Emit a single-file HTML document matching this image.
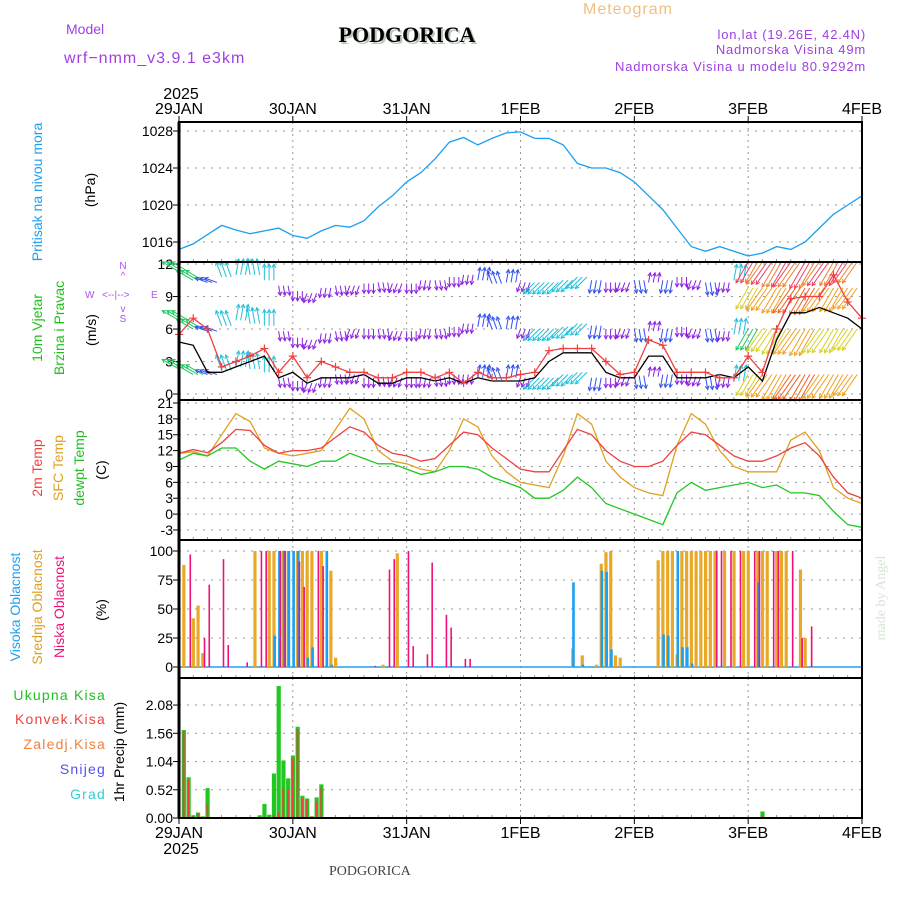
<!DOCTYPE html>
<html><head><meta charset="utf-8"><style>
body{margin:0;background:#fff}
svg{display:block}
</style></head><body>
<svg id="c" width="900" height="900" viewBox="0 0 900 900" xmlns="http://www.w3.org/2000/svg" font-family="Liberation Sans, DejaVu Sans, sans-serif">
<g>
<text x="66" y="34" font-size="14" fill="#a040e0">Model</text>
<text x="64" y="63" font-size="16" fill="#a040e0" letter-spacing="1">wrf−nmm_v3.9.1 e3km</text>
<text x="409" y="44" font-size="22" font-weight="bold" style="font-family:'Liberation Serif',serif" text-anchor="middle" fill="#b8c8b8">PODGORICA</text>
<text x="407" y="42" font-size="22" font-weight="bold" style="font-family:'Liberation Serif',serif" text-anchor="middle" fill="#000">PODGORICA</text>
<text x="583" y="14" font-size="16" fill="#f0c080" letter-spacing="1">Meteogram</text>
<text x="866" y="39" font-size="13" fill="#a040e0" text-anchor="end" letter-spacing="0.8">lon,lat (19.26E, 42.4N)</text>
<text x="866" y="54" font-size="13" fill="#a040e0" text-anchor="end" letter-spacing="0.8">Nadmorska Visina 49m</text>
<text x="866" y="71" font-size="13" fill="#a040e0" text-anchor="end" letter-spacing="0.8">Nadmorska Visina u modelu 80.9292m</text>
<text x="329" y="875" font-size="14" style="font-family:'Liberation Serif',serif" fill="#444">PODGORICA</text>
<text transform="translate(885,598) rotate(-90)" font-size="14" style="font-family:'Liberation Serif',serif" fill="#d8e4d8" text-anchor="middle">made by Angel</text>
</g>
<g>
<text transform="translate(42,192) rotate(-90)" font-size="14" fill="#20a0f0" text-anchor="middle">Pritisak na nivou mora</text>
<text transform="translate(95,190) rotate(-90)" font-size="14" fill="#000" text-anchor="middle">(hPa)</text>
<text transform="translate(42,328) rotate(-90)" font-size="14" fill="#20c020" text-anchor="middle">10m Vjetar</text>
<text transform="translate(64,328) rotate(-90)" font-size="14" fill="#20c020" text-anchor="middle">Brzina i Pravac</text>
<text transform="translate(96,330) rotate(-90)" font-size="14" fill="#000" text-anchor="middle">(m/s)</text>
<g fill="#b050f0" font-size="10">
<text x="123" y="269" text-anchor="middle">N</text><text x="123" y="279" text-anchor="middle">^</text>
<text x="85" y="298">W</text><text x="102" y="298">&lt;--|--&gt;</text><text x="151" y="298">E</text>
<text x="123" y="312" text-anchor="middle">v</text><text x="123" y="322" text-anchor="middle">S</text>
</g>
<text transform="translate(42,468) rotate(-90)" font-size="14" fill="#f04040" text-anchor="middle">2m Temp</text>
<text transform="translate(63,468) rotate(-90)" font-size="14" fill="#e0a020" text-anchor="middle">SFC Temp</text>
<text transform="translate(84,468) rotate(-90)" font-size="14" fill="#20c020" text-anchor="middle">dewpt Temp</text>
<text transform="translate(106,470) rotate(-90)" font-size="14" fill="#000" text-anchor="middle">(C)</text>
<text transform="translate(20,607) rotate(-90)" font-size="14" fill="#20a0f0" text-anchor="middle">Visoka Oblacnost</text>
<text transform="translate(42,607) rotate(-90)" font-size="14" fill="#e0a020" text-anchor="middle">Srednja Oblacnost</text>
<text transform="translate(64,607) rotate(-90)" font-size="14" fill="#f0107a" text-anchor="middle">Niska Oblacnost</text>
<text transform="translate(106,610) rotate(-90)" font-size="14" fill="#000" text-anchor="middle">(%)</text>
<g font-size="14" text-anchor="end" letter-spacing="1.2">
<text x="106" y="700" fill="#20c020">Ukupna  Kisa</text>
<text x="106" y="724" fill="#f04040">Konvek.Kisa</text>
<text x="106" y="749" fill="#f08040">Zaledj.Kisa</text>
<text x="106" y="774" fill="#5050f0">Snijeg</text>
<text x="106" y="799" fill="#30d0d0">Grad</text>
</g>
<text transform="translate(124,752) rotate(-90)" font-size="14" fill="#000" text-anchor="middle">1hr Precip (mm)</text>
</g>
<g id="plot"></g>
</svg>
<script>
// ---- data (3-hourly, 29JAN 00h .. 4FEB 00h) ----
const days = ["29JAN","30JAN","31JAN","1FEB","2FEB","3FEB","4FEB"];
const pressTicks = [1016,1020,1024,1028];
const windTicks = [0,3,6,9,12];
const tempTicks = [-3,0,3,6,9,12,15,18,21];
const cloudTicks = [0,25,50,75,100];
const precipTicks = [0,0.52,1.04,1.56,2.08];
const pressure = [1015.2,1015.8,1016.8,1017.8,1017.3,1016.9,1017.2,1017.5, 1016.7,1016.4,1017.2,1017.8,1017.6,1018.3,1019.8,1021, 1022.5,1023.5,1025,1026.8,1027.3,1026.5,1027.2,1027.8, 1027.9,1027.2,1027.2,1026.5,1024.5,1024,1024,1023.5, 1022.5,1021,1019.5,1017.5,1015.5,1015,1015.5,1015, 1014.5,1014.8,1015.5,1015.2,1016,1017.5,1019,1020,1021];
const t2m = [11.5,12.2,11.6,13.5,16,15.8,13,11.5, 12,12,12.5,14.5,16.5,15.5,13,11.5, 11,10,10.5,13,15.5,15,12.5,10.5, 8.5,8,8,12,16,15,12,10, 9,9,10,13,15.5,15,13,11, 10,10,11,12.5,13.5,11,7,4, 3];
const tsfc = [11.5,11.8,11,15,19,17.5,12.5,11.5, 11,11.5,12,16,20,18,12,10, 9.5,8.5,8,12,18,16.5,11,8, 6,5.5,5,11,19,17,10,7, 5,4,3.5,13,19,17,12,9, 8,8,8,14,15.5,12,5,3, 2];
const tdew = [10.2,11.5,11,12.5,12.5,10,8.5,10, 9.5,9,10,10,11.5,10.5,9.5,9.5, 8.5,7.5,8,9,9,8.5,7,6, 5,3,3,4.5,7,5,2,1, 0,-1,-2,4,6,4.5,5,5.5, 6,5,5.5,4,4,3.5,0.5,-2, -2.5];
const wspd = [4.8,4.5,2,2,2.5,3,3.5,1.5, 2,1,1.5,1.5,1.5,1.8,1,1, 1.5,1.5,1.2,1.5,1,1.5,1.2,1.2, 1.2,1.5,3,3.8,3.8,3.8,2,1.5, 1.5,3.5,3.5,1.5,1.5,1.5,1.8,1.5, 2.5,1.2,5,7.5,7.5,8,7.5,7, 6];
const wgust = [5.5,7,6,2.5,3,3.5,4.2,2, 3.5,1.5,3,2.5,2,2,1.5,1.5, 2,2,1.5,2,1,2,1.5,1.5, 1.8,2,4,4.2,4.2,4.2,3,1.8, 2,5,4.5,2,2,2,1.5,1.5, 3.5,2,6,8.8,9,9,11,8.5, 7];
// wind arrows: pointing direction (deg clockwise from up) and speed
const windDir = [300,300,290,340,10,350,0,170, 180,200,190,170,200,180,170,200, 180,190,170,180,190,10,340,10, 200,225,225,225,225,190,180,200, 170,10,190,180,200,170,190,10, 210,215,210,215,210,215,210,215, 210];
const windSpd = [4.5,4.5,2.5,3.5,3.5,3.5,3.5,1.5, 1.5,1.5,1.5,1.5,1.5,1.5,1.5,1.5, 1.5,1.5,1.5,1.5,1.5,2.5,2.5,2.5, 1.5,3.5,3.5,3.5,3.5,2.5,1.5,1.5, 2.5,1.5,2.5,1.5,1.5,2.5,1.5,3.5, 6,7,7.5,8,8,7.5,7,6.5, 6];
const rowTop = [11.3,10.5,10.3,10.8,11,11,10.5,10, 9.5,9.3,9.8,10,10,10.2,10.3,10.2, 10.2,10.5,10.5,10.8,11,10.5,10.2,10.3, 10.3,10.3,10.3,10.5,10.8,10.5,10.3,10.3, 10.5,10.3,10.5,10.8,10.5,10.3,10.3,10.5, 12.2,12.2,12.2,12.2,12.2,12.2,12.2,12.2, 12.2];
const rowMid = [6.8,6,5.8,6.3,6.8,6.5,6.3,5.8, 5.2,5,5.6,5.8,6,6,6,5.8, 5.8,6,6,6.2,6.5,6.2,6,6, 6,6,6,6.2,6.5,6.3,6,6, 6,5.8,6,6.2,6,6,5.8,5.5, 9.8,9.8,9.8,9.8,9.8,9.8,9.8,9.8, 9.8];
const rowLow = [2.3,1.8,1.8,2.2,2.5,2.3,2,1.5, 1.2,1,1.5,1.8,1.8,1.5,1.6,1.5, 1.5,1.5,1.6,1.8,1.8,1.5,1.3,1.5, 1.5,1.5,1.5,1.8,2,1.5,1.5,1.6, 1.7,1.6,1.8,1.8,1.6,1.6,1.5,1.2, 6,6,6,6,6,6,6,6, 6];
const rowExtra = [null,null,null,null,null,null,null,null, null,null,null,null,null,null,null,null, null,null,null,null,null,null,null,null, null,null,null,null,null,null,null,null, null,null,null,null,null,null,null,null, 1.8,1.8,1.8,1.8,1.8,1.8,1.8,1.8, 1.8];
// cloud cover: hour index and percent
const midHours = [1,3,4,5,16,19,20,22,23,25,26,27,28,30,32,33,43,46,83,85,88,89,90,91,92,93,101,102,103,104,105,106,107,108,109,110,111,112,113,115,117,119,120,122,123,124,126,127,128,131,132];
const midVals  = [88,42,53,12,100,100,100,100,100,100,100,100,100,100,83,8,2,98,16,10,2,89,99,100,10,8,92,100,100,100,11,100,100,100,100,100,100,100,100,100,100,100,100,100,100,100,100,100,100,84,25];
const lowHours = [2,5,6,9,10,14,17,18,21,22,25,26,29,30,41,44,45,48,49,52,53,56,57,60,61,113,114,116,118,121,122,125,126,129,131,133];
const lowVals  = [97,25,71,93,19,4,100,100,100,100,91,69,100,87,1,84,93,100,18,11,90,45,34,7,7,100,100,100,100,100,100,100,100,100,25,35];
const highHours = [20,21,22,23,24,25,27,28,31,32,83,85,89,90,91,102,103,105,106,107,108,122];
const highVals  = [27,100,100,100,100,100,8,17,100,2,73,2,83,82,15,28,27,100,17,17,3,73];
// precipitation (mm/h)
const precipHours = [1,2,3,4,5,6,17,18,19,20,21,22,23,24,25,26,27,28,29,30,58,123];
const precipTotal = [1.62,0.75,0.05,0.1,0.03,0.55,0.05,0.26,0.06,0.82,2.43,1.06,0.73,1.15,1.68,0.41,0.36,0.03,0.38,0.62,0.02,0.12];
const precipConv  = [1.6,0.7,0.03,0.08,0.02,0.27,0.02,0.02,0.02,0.05,0.1,0.55,0.52,1.1,1.63,0.37,0.34,0.03,0.31,0.55,0.01,0.05];

// ---- geometry ----
const NS="http://www.w3.org/2000/svg", X0=179, X1=862, HOURS=144;
const xh = h => X0 + h*(X1-X0)/HOURS;
const yP = v => 131 + (1028-v)*9.25;
const yW = v => 394 - v*10.83;
const yT = v => 403 + (21-v)*5.29;
const yC = v => 667 - v*1.16;
const yR = v => 818 - v*54.3;
const panels = [[122,262,yP,pressTicks,"pressure-panel",0],[262,400,yW,windTicks,"wind-panel",0],[400,540,yT,tempTicks,"temp-panel",0],[540,678,yC,cloudTicks,"cloud-panel",0],[678,818,yR,precipTicks,"precip-panel",2]];
const plot = document.getElementById('plot');
function el(tag, attrs, parent){const e=document.createElementNS(NS,tag);for(const k in attrs)e.setAttribute(k,attrs[k]);(parent||plot).appendChild(e);return e;}

panels.forEach(p=>{
  const g = el('g',{});
  
  
  p[3].forEach(t=>{
    const y=p[2](t);
    el('line',{x1:X0,x2:X1,y1:y,y2:y,stroke:'#999','stroke-dasharray':'2,6','stroke-width':1},g);
    el('line',{x1:X0-6,x2:X0,y1:y,y2:y,stroke:'#000','stroke-width':1},g);
    const tx = el('text',{x:X0-6,y:y+5,'font-size':14,'text-anchor':'end',fill:'#000'},g);
    tx.textContent = p[5]? t.toFixed(2): String(t);
    
    
  });
  for(let d=1; d<6; d++){ const x=xh(d*24); el('line',{x1:x,x2:x,y1:p[0],y2:p[1],stroke:'#999','stroke-dasharray':'2,4'},g); }
  for(let h=0; h<=HOURS; h+=3){ el('line',{x1:xh(h),x2:xh(h),y1:p[1],y2:p[1]-3,stroke:'#555','stroke-width':0.6},g); }
});

function line(arr, yf, color, name){
  const d = arr.map((v,i)=>(i?'L':'M')+xh(i*3).toFixed(1)+','+yf(v).toFixed(1)).join('');
  const p = el('path',{d:d,fill:'none',stroke:color,'stroke-width':1.3});
  
  
}
line(pressure, yP, '#1aa0f0', 'pressure-line');

function windColor(s){ if(s<2) return '#8a20e0'; if(s<3) return '#3050f0'; if(s<4) return '#20c0d8'; if(s<5) return '#20c860'; if(s<6.5) return '#d8d020'; if(s<7.8) return '#f0a020'; return '#f06020'; }
[rowTop,rowMid,rowLow,rowExtra].forEach((row,ri)=>{
  for(let h=0; h<HOURS; h++){
    const i = Math.floor(h/3), lv=row[i];
    if(lv===null) continue;
    const a = windDir[i]*Math.PI/180, L = 5 + windSpd[i]*3.2;
    const x=xh(h), y=yW(lv), x2=x+Math.sin(a)*L, y2=y-Math.cos(a)*L;
    const col = (ri===0 && i>=40) ? (h%4<2?'#f04060':'#f08030') : windColor(windSpd[i] + (ri===2&&i>=40?-1.5:0));
    const g = el('g',{stroke:col,'stroke-width':1,fill:'none'});
    
    
    el('line',{x1:x,y1:y,x2:x2,y2:y2},g);
    const b1=a+Math.PI-0.5, b2=a+Math.PI+0.5;
    el('path',{d:`M${x2+Math.sin(b1)*4},${y2-Math.cos(b1)*4}L${x2},${y2}L${x2+Math.sin(b2)*4},${y2-Math.cos(b2)*4}`},g);
  }
});
line(wspd, yW, '#000', 'wind-speed-line');
line(wgust, yW, '#f04040', 'wind-gust-line');
wgust.forEach((v,i)=>{
  const x=xh(i*3), y=yW(v);
  const m = el('path',{d:`M${x-4},${y}H${x+4}M${x},${y-4}V${y+4}`,stroke:'#f04040','stroke-width':1.2});
  
  
});

line(tsfc, yT, '#e0a020', 'sfc-temp-line');
line(t2m, yT, '#f04040', '2m-temp-line');
line(tdew, yT, '#20c820', 'dewpoint-line');

el('line',{x1:X0,x2:X1,y1:yC(0),y2:yC(0),stroke:'#20a0f0','stroke-width':1.5});
midHours.forEach((h,i)=>{ const r=el('rect',{x:xh(h)-1.5,y:yC(midVals[i]),width:3.2,height:yC(0)-yC(midVals[i]),fill:'#e8a828'});
    });
highHours.forEach((h,i)=>{ const r=el('rect',{x:xh(h)-0.5,y:yC(highVals[i]),width:2.6,height:yC(0)-yC(highVals[i]),fill:'#1aa0f0'});
    });
lowHours.forEach((h,i)=>{ const r=el('rect',{x:xh(h)+1,y:yC(lowVals[i]),width:1.6,height:yC(0)-yC(lowVals[i]),fill:'#f0107a'});
    });

precipHours.forEach((h,i)=>{
  const r=el('rect',{x:xh(h)-2,y:yR(precipTotal[i]),width:4.2,height:yR(0)-yR(precipTotal[i]),fill:'#20c820'});
   
  const c=el('rect',{x:xh(h)-1,y:yR(precipConv[i]),width:1.8,height:yR(0)-yR(precipConv[i]),fill:'#f04040'});
   
});

panels.forEach(p=>{ el('rect',{x:X0,y:p[0],width:X1-X0,height:p[1]-p[0],fill:'none',stroke:'#000','stroke-width':2}); });
el('line',{x1:X0,x2:X0,y1:122,y2:818,stroke:'#000','stroke-width':3});

days.forEach((d,i)=>{
  const x=xh(i*24);
  el('line',{x1:x,x2:x,y1:116,y2:122,stroke:'#000'});
  el('line',{x1:x,x2:x,y1:818,y2:824,stroke:'#000'});
  const t=el('text',{x:x,y:114,'font-size':16,'text-anchor':'middle',fill:'#000'}); t.textContent=d;
   
  const b=el('text',{x:x,y:838,'font-size':16,'text-anchor':'middle',fill:'#000'}); b.textContent=d;
   
});
const y1=el('text',{x:181,y:99,'font-size':16,'text-anchor':'middle',fill:'#000'}); y1.textContent='2025';
 
const y2=el('text',{x:181,y:854,'font-size':16,'text-anchor':'middle',fill:'#000'}); y2.textContent='2025';
 
</script>
</body></html>
